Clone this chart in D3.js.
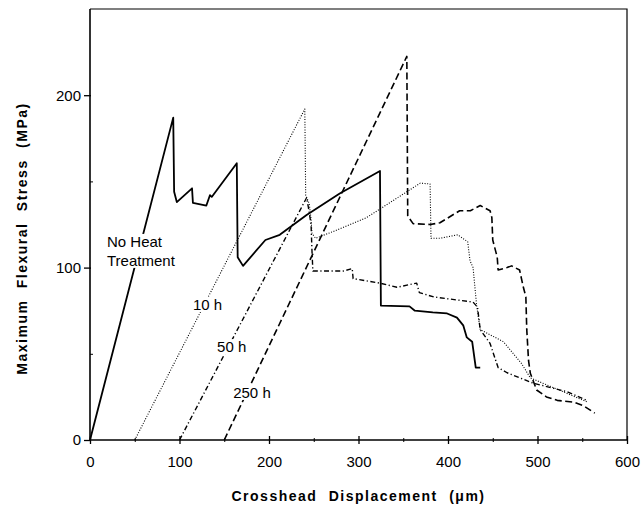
<!DOCTYPE html>
<html><head><meta charset="utf-8">
<script src="https://cdn.jsdelivr.net/npm/d3@7"></script>
<style>
html,body{margin:0;padding:0;background:#fff;}
svg{display:block;font-family:"Liberation Sans",Arial,Helvetica,sans-serif;}
</style></head><body>
<svg id="chart" width="643" height="510"></svg>
<script>
// ---- data (x: crosshead displacement in µm, y: max flexural stress in MPa)
const noHeat = [[0,0],[93,187],[94,144],[97,138],[114,146],[115,137.5],[130,136],[134,142],[136,141],[164,160.5],[165,106],[171,101],[196,116],[212,119],[242,130.5],[279,143],[324,156],[325,78],[357,77.5],[363,75],[383,74],[399,73.4],[410,71],[417,66.5],[421,59.5],[427,57],[431,42],[436,42]];
const h10 = [[50,0],[240,192],[241,142],[245,137],[247,128],[248,120],[252,117],[272,121],[309,129],[369,149],[380,148.5],[381,117],[391,117],[411,119],[422,115],[424.6,104],[428,100],[430,89],[432,78],[436,64],[462,57],[482,44.5],[492,36],[556,22]];
const h50 = [[100,0],[242,140.5],[244,135],[247,125],[248,110],[249,98],[283,98],[293,99.4],[294,93.6],[324,91],[343,88.6],[365,91],[368,85.5],[384,83],[428,80],[433,77],[436,64],[447,56],[456,42],[466,39],[495,33],[533,28],[555,23]];
const h250 = [[150,0],[354,222.5],[355,130],[361,125.5],[380,125],[391,126],[413,133],[425,133],[436,136],[447,133],[449,129],[450,116],[455,106],[456,98.6],[466,100],[471,101],[480,98.6],[484,89],[487,83],[488,64],[490,46],[492,38.7],[499,29],[510,25],[522,23],[540,22],[551,20],[564,15.6]];
const xTicks = [0,100,200,300,400,500,600];
const xMinor = [50,150,250,350,450,550];
const yTicks = [0,100,200];
const yMinor = [50,150];
const labels = [
  {lines:["No Heat","Treatment"], x:19, y:112},
  {lines:["10 h"], x:115, y:75.4},
  {lines:["50 h"], x:142, y:51},
  {lines:["250 h"], x:160, y:24.4}
];

const svg = d3.select("#chart");
const x = d3.scaleLinear().domain([0,600]).range([90,627]);
const y = d3.scaleLinear().domain([0,250]).range([440,9]);

// frame (top & right)
svg.append("path").attr("d",`M${x(0)},${y(250)}H${x(600)}V${y(0)}`)
  .attr("fill","none").attr("stroke","#000").attr("stroke-width",1.2);

const line = d3.line().x(d=>x(d[0])).y(d=>y(d[1]));
const series = [
  {d:noHeat, w:1.8, dash:null},
  {d:h10, w:1.1, dash:"1,1.6"},
  {d:h50, w:1.4, dash:"5,2.5,1.2,2.5"},
  {d:h250, w:1.6, dash:"7,3.5"}
];
series.forEach(s=>{
  svg.append("path").attr("d",line(s.d)).attr("fill","none")
    .attr("stroke","#000").attr("stroke-width",s.w)
    .attr("stroke-linejoin","round")
    .attr("stroke-dasharray",s.dash);
});

// curve labels with white knock-out
labels.forEach(l=>{
  const g = svg.append("g");
  const t = g.append("text").attr("font-size",15).attr("fill","#000");
  l.lines.forEach((s,i)=>{
    t.append("tspan").attr("x",x(l.x)).attr("y",y(l.y)+i*19).text(s);
  });
  const bb = t.node().getBBox();
  g.insert("rect","text").attr("x",bb.x-1).attr("y",bb.y+1).attr("width",bb.width+2).attr("height",bb.height-2).attr("fill","#fff");
});

// axes
const xAxis = svg.append("g").attr("transform",`translate(0,${y(0)})`)
  .call(d3.axisBottom(x).tickValues(xTicks).tickSize(4).tickSizeOuter(0).tickPadding(12).tickFormat(d3.format("d")));
xAxis.selectAll(".tick line").attr("y1",-4).attr("stroke-width",1.3);
const xm = svg.append("g").attr("transform",`translate(0,${y(0)})`)
  .call(d3.axisBottom(x).tickValues(xMinor).tickSize(2).tickSizeOuter(0).tickFormat(""));
xm.selectAll(".tick line").attr("y1",-2);
xm.select(".domain").remove();

const yAxis = svg.append("g").attr("transform",`translate(${x(0)},0)`)
  .call(d3.axisLeft(y).tickValues(yTicks).tickSize(6).tickSizeOuter(0).tickPadding(3).tickFormat(d3.format("d")));
yAxis.selectAll(".tick line").attr("x2",-6).attr("x1",1).attr("stroke-width",1.3);
const ym = svg.append("g").attr("transform",`translate(${x(0)},0)`)
  .call(d3.axisLeft(y).tickValues(yMinor).tickSize(-3).tickSizeOuter(0).tickFormat(""));
ym.select(".domain").remove();

svg.selectAll(".domain").attr("stroke-width",1.6).attr("d",function(){return d3.select(this).attr("d");});
// extend y domain line to top
yAxis.select(".domain").attr("d",`M0,${y(250)}V${y(0)}`);
xAxis.select(".domain").attr("d",`M${x(0)},0H${x(600)}`);

svg.selectAll(".tick text").attr("font-size",15).attr("fill","#000")
  .attr("font-family","'Liberation Sans',Arial,Helvetica,sans-serif");

// axis titles
svg.append("text").attr("x",(x(0)+x(600))/2).attr("y",501).attr("text-anchor","middle")
  .attr("font-size",14).attr("font-weight","bold").attr("letter-spacing",1.5).attr("word-spacing",6)
  .text("Crosshead Displacement (\u03BCm)");
svg.append("text").attr("transform",`translate(27,${(y(0)+y(250))/2+14}) rotate(-90)`).attr("text-anchor","middle")
  .attr("font-size",14).attr("font-weight","bold").attr("letter-spacing",1.5).attr("word-spacing",6)
  .text("Maximum Flexural Stress (MPa)");
</script>
</body></html>
